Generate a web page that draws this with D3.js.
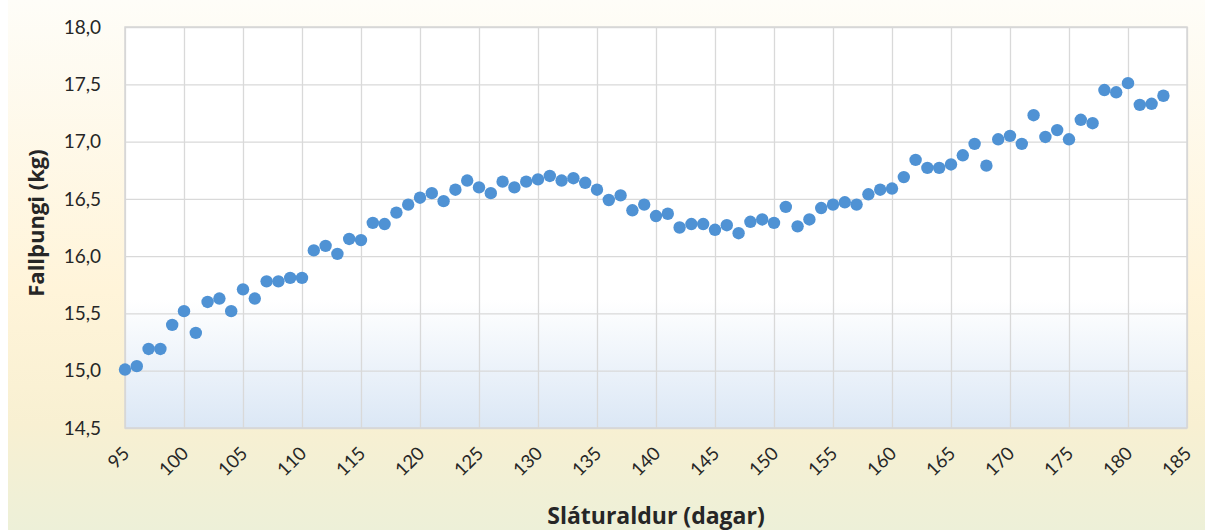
<!DOCTYPE html>
<html>
<head>
<meta charset="utf-8">
<script src="https://cdn.jsdelivr.net/npm/d3@7"></script>
<style>
html,body{margin:0;padding:0;background:#fff;}
svg{display:block;}
text{fill:#262626;}
</style>
</head>
<body>
<svg id="chart" width="1205" height="530"></svg>
<script>
const days = [95,96,97,98,99,100,101,102,103,104,105,106,107,108,109,110,111,112,113,114,115,116,117,118,119,120,121,122,123,124,125,126,127,128,129,130,131,132,133,134,135,136,137,138,139,140,141,142,143,144,145,146,147,148,149,150,151,152,153,154,155,156,157,158,159,160,161,162,163,164,165,166,167,168,169,170,171,172,173,174,175,176,177,178,179,180,181,182,183];
const weights = [15.01,15.04,15.19,15.19,15.40,15.52,15.33,15.60,15.63,15.52,15.71,15.63,15.78,15.78,15.81,15.81,16.05,16.09,16.02,16.15,16.14,16.29,16.28,16.38,16.45,16.51,16.55,16.48,16.58,16.66,16.60,16.55,16.65,16.60,16.65,16.67,16.70,16.66,16.68,16.64,16.58,16.49,16.53,16.40,16.45,16.35,16.37,16.25,16.28,16.28,16.23,16.27,16.20,16.30,16.32,16.29,16.43,16.26,16.32,16.42,16.45,16.47,16.45,16.54,16.58,16.59,16.69,16.84,16.77,16.77,16.80,16.88,16.98,16.79,17.02,17.05,16.98,17.23,17.04,17.10,17.02,17.19,17.16,17.45,17.43,17.51,17.32,17.33,17.40];
const xTicks = [95,100,105,110,115,120,125,130,135,140,145,150,155,160,165,170,175,180,185];
const yTicks = [14.5,15.0,15.5,16.0,16.5,17.0,17.5,18.0];
const xTitle = "Sláturaldur (dagar)";
const yTitle = "Fallþungi (kg)";

const svg = d3.select("#chart");
const W = 1205, H = 530;
const m = {left:125, right:1187, top:27, bottom:428};
const lato = "Lato, 'Open Sans', sans-serif";
const open = "'Open Sans', Lato, sans-serif";

const defs = svg.append("defs");
const bg = defs.append("linearGradient").attr("id","bg").attr("x1",0).attr("y1",0).attr("x2",0).attr("y2",1);
bg.append("stop").attr("offset","0%").attr("stop-color","#fefdf8");
bg.append("stop").attr("offset","55%").attr("stop-color","#fff4d9");
bg.append("stop").attr("offset","80%").attr("stop-color","#f8f0d2");
bg.append("stop").attr("offset","100%").attr("stop-color","#edf0d8");
const pg = defs.append("linearGradient").attr("id","pg").attr("x1",0).attr("y1",0).attr("x2",0).attr("y2",1);
pg.append("stop").attr("offset","0%").attr("stop-color","#ffffff");
pg.append("stop").attr("offset","68%").attr("stop-color","#ffffff");
pg.append("stop").attr("offset","100%").attr("stop-color","#dbe7f5");

svg.append("rect").attr("x",0).attr("y",0).attr("width",W).attr("height",H).attr("fill","#ffffff");
svg.append("rect").attr("x",8).attr("y",0).attr("width",W-8).attr("height",H).attr("fill","url(#bg)");

const x = d3.scaleLinear().domain([95,185]).range([m.left,m.right]);
const y = d3.scaleLinear().domain([14.5,18.0]).range([m.bottom,m.top]);

svg.append("rect").attr("x",m.left).attr("y",m.top).attr("width",m.right-m.left).attr("height",m.bottom-m.top).attr("fill","url(#pg)");

// gridlines
const gx = svg.append("g").attr("transform",`translate(0,${m.bottom})`)
  .call(d3.axisBottom(x).tickValues(xTicks).tickSize(-(m.bottom-m.top)).tickFormat(""));
gx.select(".domain").remove();
gx.selectAll("line").attr("stroke","#d9d9d9").attr("stroke-width",1.3);
const gy = svg.append("g").attr("transform",`translate(${m.left},0)`)
  .call(d3.axisLeft(y).tickValues(yTicks).tickSize(-(m.right-m.left)).tickFormat(""));
gy.select(".domain").remove();
gy.selectAll("line").attr("stroke","#d9d9d9").attr("stroke-width",1.3);

svg.append("rect").attr("x",m.left).attr("y",m.top).attr("width",m.right-m.left).attr("height",m.bottom-m.top)
  .attr("fill","none").attr("stroke","#d6d6d6").attr("stroke-width",1.5);

// y tick labels
const fmt = d => d3.format(".1f")(d).replace(".",",");
svg.append("g").selectAll("text").data(yTicks).join("text")
  .attr("x",m.left-24).attr("y",d=>y(d)).attr("dy","0.35em")
  .attr("text-anchor","end").style("font-family",lato).style("font-size","19px").text(fmt);

// x tick labels rotated
svg.append("g").selectAll("text").data(xTicks).join("text")
  .attr("transform",d=>`translate(${x(d)+1},${m.bottom+22}) rotate(-45)`)
  .attr("text-anchor","end").attr("dy","0.35em").style("font-family",lato).style("font-size","18.5px").text(d=>d);

// points
svg.append("g").selectAll("circle").data(days.map((d,i)=>[d,weights[i]])).join("circle")
  .attr("cx",d=>x(d[0])).attr("cy",d=>y(d[1])).attr("r",6.2).attr("fill","#4f92d4");

// axis titles
svg.append("text").attr("x",656).attr("y",524).attr("text-anchor","middle")
  .style("font-family",open).style("font-size","23px").style("font-weight","bold").text(xTitle);
svg.append("text").attr("transform",`translate(44,223) rotate(-90)`)
  .attr("text-anchor","middle")
  .style("font-family",open).style("font-size","22px").style("font-weight","bold").text(yTitle);
</script>
</body>
</html>
